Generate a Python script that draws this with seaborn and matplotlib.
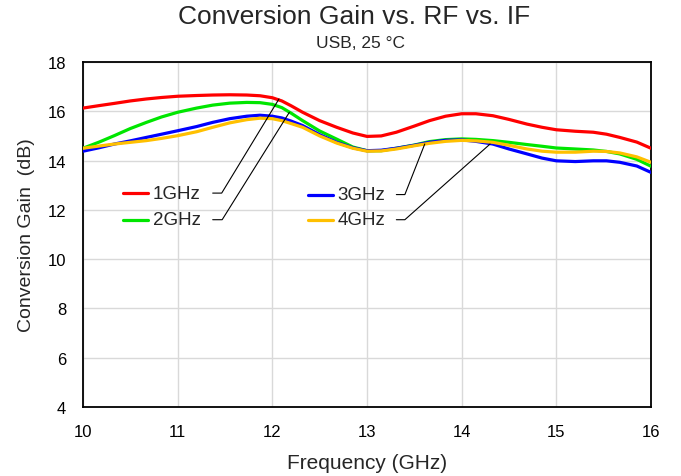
import numpy as np
import pandas as pd
import seaborn as sns
import matplotlib
matplotlib.use("Agg")
import matplotlib.pyplot as plt

# values
freq_ghz = [10, 10.17, 10.33, 10.5, 10.67, 10.83, 11, 11.2, 11.37, 11.55,
            11.73, 11.87, 12, 12.1, 12.2, 12.32, 12.5, 12.68, 12.85, 13,
            13.15, 13.31, 13.5, 13.66, 13.83, 14, 14.15, 14.33, 14.5, 14.69,
            14.85, 15, 15.2, 15.39, 15.53, 15.67, 15.85, 16]
gain_1ghz = [16.13, 16.23, 16.32, 16.42, 16.50, 16.56, 16.61, 16.64, 16.66, 16.67,
             16.66, 16.63, 16.55, 16.42, 16.22, 15.96, 15.62, 15.35, 15.12, 14.98,
             15.00, 15.15, 15.40, 15.62, 15.80, 15.90, 15.90, 15.82, 15.67, 15.48,
             15.35, 15.25, 15.19, 15.15, 15.07, 14.94, 14.75, 14.50]
gain_2ghz = [14.50, 14.75, 15.01, 15.30, 15.55, 15.77, 15.96, 16.13, 16.25, 16.33,
             16.36, 16.35, 16.28, 16.15, 15.92, 15.62, 15.20, 14.87, 14.55, 14.40,
             14.40, 14.50, 14.63, 14.77, 14.85, 14.88, 14.86, 14.81, 14.74, 14.65,
             14.58, 14.51, 14.47, 14.43, 14.37, 14.27, 14.05, 13.77]
gain_3ghz = [14.38, 14.52, 14.67, 14.80, 14.94, 15.07, 15.21, 15.38, 15.55, 15.70,
             15.80, 15.84, 15.80, 15.73, 15.60, 15.42, 15.05, 14.74, 14.52, 14.40,
             14.42, 14.50, 14.62, 14.74, 14.82, 14.84, 14.78, 14.67, 14.47, 14.27,
             14.10, 13.99, 13.96, 13.99, 13.99, 13.93, 13.78, 13.52]
gain_4ghz = [14.50, 14.59, 14.67, 14.74, 14.81, 14.90, 15.01, 15.17, 15.35, 15.53,
             15.66, 15.72, 15.70, 15.62, 15.50, 15.35, 15.00, 14.71, 14.50, 14.38,
             14.39, 14.47, 14.60, 14.70, 14.78, 14.82, 14.80, 14.74, 14.62, 14.47,
             14.38, 14.34, 14.34, 14.38, 14.37, 14.31, 14.15, 13.93]
if_labels = ["1GHz", "2GHz", "3GHz", "4GHz"]
colors = ["#FF0000", "#00E600", "#0000FF", "#FFC000"]

df = pd.DataFrame({
    "Frequency": freq_ghz * 4,
    "Gain": gain_1ghz + gain_2ghz + gain_3ghz + gain_4ghz,
    "IF": [lab for lab in if_labels for _ in freq_ghz],
})

sns.set_style("white")
plt.rcParams["font.family"] = ["Liberation Sans", "DejaVu Sans"]

fig = plt.figure(figsize=(6.81, 4.77), dpi=100)
ax = fig.add_axes([83 / 681, 1 - 408 / 477, 568 / 681, 345 / 477])

sns.lineplot(data=df, x="Frequency", y="Gain", hue="IF", hue_order=if_labels,
             palette=colors, linewidth=2.3, legend=False, ax=ax, zorder=3)
for ln in ax.get_lines():
    ln.set_solid_joinstyle("round")

ax.set_xlim(10, 16)
ax.set_ylim(4, 18)
ax.set_xticks(range(10, 17))
ax.set_yticks(range(4, 19, 2))
ax.grid(True, color="#d9d9d9", linewidth=1)
for s in ax.spines.values():
    s.set_color("black")
    s.set_linewidth(1.3)
ax.tick_params(length=0, labelsize=12, pad=12, colors="black")
ax.set_xlabel("Frequency (GHz)", fontsize=15, labelpad=10)
ax.set_ylabel("Conversion Gain  (dB)", fontsize=14, labelpad=9)

fig.text(354 / 681, 1 - 17 / 477, "Conversion Gain vs. RF vs. IF",
         ha="center", va="center", fontsize=19)
fig.text(361 / 681, 1 - 44 / 477, "USB, 25 °C",
         ha="center", va="center", fontsize=12.5)

# labels with leader lines (Excel style)
labels = [
    # sample x0, x1, text x, y, dash x0, dash x1, end x, end y
    ("1GHz", 10.42, 10.69, 10.74, 12.68, 11.37, 11.465, 12.07, 16.50),
    ("2GHz", 10.42, 10.69, 10.74, 11.60, 11.37, 11.47, 12.18, 15.96),
    ("3GHz", 12.38, 12.64, 12.69, 12.62, 13.31, 13.40, 13.61, 14.67),
    ("4GHz", 12.38, 12.64, 12.69, 11.60, 13.31, 13.40, 14.30, 14.67),
]
for (lab, sx0, sx1, tx, ty, dx0, dx1, ex, ey), col in zip(labels, colors):
    ax.plot([sx0, sx1], [ty, ty], color=col, linewidth=2.3, zorder=4)
    ax.text(tx, ty, lab, fontsize=13.5, va="center", ha="left", zorder=4)
    ax.plot([dx0, dx1, ex], [ty, ty, ey], color="black", linewidth=0.8, zorder=5)

fig.savefig("out.png", dpi=100)
